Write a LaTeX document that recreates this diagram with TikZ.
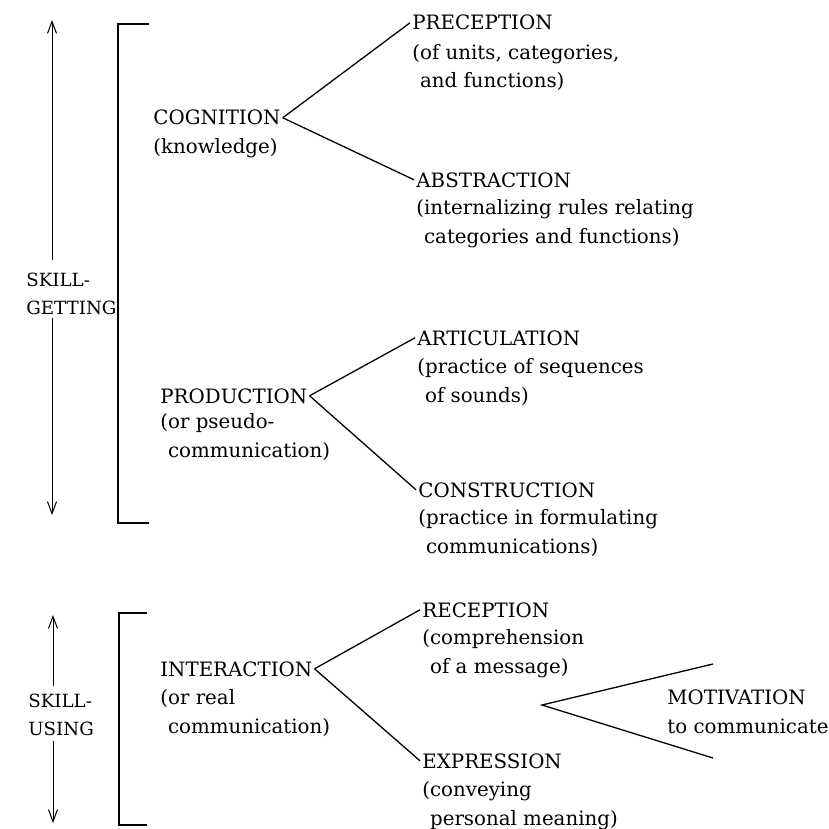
\documentclass[tikz,border=0pt]{standalone}
\usepackage{fontspec}
\setmainfont{DejaVu Serif}
\usetikzlibrary{arrows.meta}

\begin{document}
\begin{tikzpicture}[x=0.5pt, y=-0.5pt,
    >={Straight Barb[length=6pt,width=4.5pt]},
    every node/.style={font=\fontsize{9.9}{14.2}\selectfont, inner ysep=0pt, inner xsep=1pt},
    head/.style={anchor=base west},
    desc/.style={anchor=base west, align=left},
    side/.style={desc, font=\fontsize{9.1}{14}\selectfont},
    branch/.style={line width=0.65pt},
    brk/.style={line width=0.75pt},
    bar/.style={->, line width=0.5pt}]
    % Frame
    \useasboundingbox (0,0) rectangle (829,829);

    % Skill-getting (base is the last line)
    \node[side] (sg) at (24,314) {SKILL-\\GETTING};
    \coordinate (sgtop) at (52,20);
    \coordinate (sgbot) at (52,515);
    \draw[bar, shorten <=6pt] (sgtop |- sg.north) -- (sgtop);
    \draw[bar, shorten <=1.5pt] (sgbot |- sg.south) -- (sgbot);
    \draw[brk] (149,24) -- (118,24) -- (118,523) -- (149,523);

    % Cognition
    \node[head] (cog) at (151,125) {COGNITION};
    \node[desc] (cogtxt) at (151,153) {(knowledge)};
    \node[head] (prec) at (410,30) {PRECEPTION};
    \node[desc] (prectxt) at (410,88) {(of units, categories,\\\hphantom{(}and functions)};
    \node[head] (abst) at (414,187) {ABSTRACTION};
    \node[desc] (absttxt) at (414,243) {(internalizing rules relating\\\hphantom{(}categories and functions)};
    \draw[branch] (cog.east) -- (prec.west);
    \draw[branch] (cog.east) -- (abst.west);

    % Production
    \node[head] (prod) at (158,403) {PRODUCTION};
    \node[desc] (prodtxt) at (158,457) {(or pseudo-\\\hphantom{(}communication)};
    \node[head] (artc) at (415,345) {ARTICULATION};
    \node[desc] (artctxt) at (415,402) {(practice of sequences\\\hphantom{(}of sounds)};
    \node[head] (cons) at (416,497) {CONSTRUCTION};
    \node[desc] (constxt) at (416,553) {(practice in formulating\\\hphantom{(}communications)};
    \draw[branch] (prod.east) -- (artc.west);
    \draw[branch] (prod.east) -- (cons.west);

    % Skill-using
    \node[side] (su) at (26,735) {SKILL-\\USING};
    \coordinate (sutop) at (53,615);
    \coordinate (subot) at (53,823);
    \draw[bar, shorten <=3.5pt] (sutop |- su.north) -- (sutop);
    \draw[bar, shorten <=2.5pt] (subot |- su.south) -- (subot);
    \draw[brk] (147,613) -- (119,613) -- (119,825) -- (147,825);

    % Interaction
    \node[head] (intr) at (158,676) {INTERACTION};
    \node[desc] (intrtxt) at (158,733) {(or real\\\hphantom{(}communication)};
    \node[head] (recp) at (420,617) {RECEPTION};
    \node[desc] (recptxt) at (420,673) {(comprehension\\\hphantom{(}of a message)};
    \node[head] (expr) at (420,768) {EXPRESSION};
    \node[desc] (exprtxt) at (420,825) {(conveying\\\hphantom{(}personal meaning)};
    \draw[branch] (intr.east) -- (recp.west);
    \draw[branch] (intr.east) -- (expr.west);

    % Motivation
    \node[desc] (mot) at (665,733) {MOTIVATION\\to communicate};
    \coordinate (mv) at (542,705);
    \coordinate (mvup) at (713,664);
    \coordinate (mvdn) at (713,758);
    \draw[branch] (mvup) -- (mv) -- (mvdn);
\end{tikzpicture}
\end{document}
